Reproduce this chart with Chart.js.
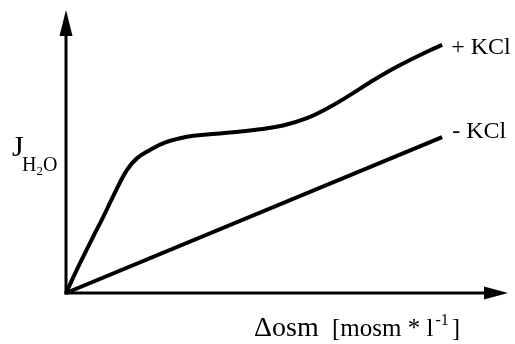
<!DOCTYPE html>
<html><head><meta charset="utf-8">
<script src="https://cdn.jsdelivr.net/npm/chart.js@4/dist/chart.umd.min.js"></script>
<style>html,body{margin:0;padding:0;background:#fff}#wrap{width:515px;height:344px;position:relative}</style>
</head><body><div id="wrap"><canvas id="c" width="515" height="344"></canvas></div>
<script>
// Data (arbitrary units, x: Δosm, y: J_H2O)
const plusKclX = [0, 3.2, 6.1, 8.4, 10.6, 13.8, 16.1, 19.0, 22.5, 27.4, 31.9, 37.8, 43.9, 49.1, 54.5, 59.7, 64.3, 68.8, 73.3, 77.8, 82.4, 85.1];
const plusKclY = [0, 10.7, 19.9, 27.0, 34.2, 43.8, 48.0, 50.9, 53.6, 55.6, 56.4, 57.2, 58.3, 59.6, 62.2, 66.2, 70.5, 75.0, 79.2, 82.9, 86.4, 88.3];
const minusKclX = [0, 85.1];
const minusKclY = [0, 55.5];
const seriesLabels = ['+ KCl', '- KCl'];
const xAxisLabel = 'Δosm';
const xAxisUnit = '[mosm * l';
const xAxisUnitSup = '-1';
const yAxisLabel = 'J';
const yAxisSub = ['H', '2', 'O'];

const toPts = (xs, ys) => xs.map((x, i) => ({x: x, y: ys[i]}));

const decor = {
  id: 'decor',
  afterDraw(chart) {
    const ctx = chart.ctx;
    const a = chart.chartArea;
    const xs = chart.scales.x, ys = chart.scales.y;
    const ox = xs.getPixelForValue(0), oy = ys.getPixelForValue(0);
    ctx.save();
    ctx.strokeStyle = '#000'; ctx.fillStyle = '#000';
    ctx.lineWidth = 3;
    // y axis
    ctx.beginPath(); ctx.moveTo(ox, oy + 1.5); ctx.lineTo(ox, a.top + 22); ctx.stroke();
    ctx.beginPath(); ctx.moveTo(ox, a.top - 2); ctx.lineTo(ox - 6.5, a.top + 24); ctx.lineTo(ox + 6.5, a.top + 24); ctx.closePath(); ctx.fill();
    // x axis
    ctx.beginPath(); ctx.moveTo(ox - 1.5, oy); ctx.lineTo(a.right - 22, oy); ctx.stroke();
    ctx.beginPath(); ctx.moveTo(a.right, oy); ctx.lineTo(a.right - 24, oy - 6.5); ctx.lineTo(a.right - 24, oy + 6.5); ctx.closePath(); ctx.fill();

    // series labels
    ctx.textBaseline = 'alphabetic'; ctx.textAlign = 'left';
    ctx.font = '24px "Liberation Serif"';
    const pEnd = chart.getDatasetMeta(0).data; const pe = pEnd[pEnd.length - 1];
    ctx.fillText(seriesLabels[0], pe.x + 9, pe.y + 9);
    const mEnd = chart.getDatasetMeta(1).data; const me = mEnd[mEnd.length - 1];
    ctx.fillText(seriesLabels[1], me.x + 10, me.y + 1);

    // y axis label
    ctx.font = '30px "Liberation Serif"';
    ctx.fillText(yAxisLabel, 12, 156);
    let x = 22;
    ctx.font = '20px "Liberation Serif"';
    ctx.fillText(yAxisSub[0], x, 171); x += ctx.measureText(yAxisSub[0]).width;
    ctx.font = '13px "Liberation Serif"';
    ctx.fillText(yAxisSub[1], x, 175); x += ctx.measureText(yAxisSub[1]).width;
    ctx.font = '20px "Liberation Serif"';
    ctx.fillText(yAxisSub[2], x, 171);

    // x axis label
    let tx = 254;
    ctx.font = '28px "Liberation Serif"';
    ctx.fillText(xAxisLabel, tx, 336);
    tx = 332;
    ctx.font = '25px "Liberation Serif"';
    ctx.fillText(xAxisUnit, tx, 336); tx += ctx.measureText(xAxisUnit).width + 2;
    ctx.font = '16px "Liberation Serif"';
    ctx.fillText(xAxisUnitSup, tx, 325); tx += ctx.measureText(xAxisUnitSup).width + 3;
    ctx.font = '25px "Liberation Serif"';
    ctx.fillText(']', tx, 336);
    ctx.restore();
  }
};

new Chart(document.getElementById('c'), {
  type: 'scatter',
  data: {
    datasets: [
      {label: seriesLabels[0], data: toPts(plusKclX, plusKclY), showLine: true, borderColor: '#000', borderWidth: 4, pointRadius: 0, tension: 0.4, clip: false, fill: false},
      {label: seriesLabels[1], data: toPts(minusKclX, minusKclY), showLine: true, borderColor: '#000', borderWidth: 4, pointRadius: 0, clip: false, fill: false}
    ]
  },
  options: {
    responsive: false,
    devicePixelRatio: 1,
    animation: false,
    layout: {padding: {left: 66, right: 7, top: 12, bottom: 51}},
    plugins: {legend: {display: false}, tooltip: {enabled: false}},
    scales: {
      x: {type: 'linear', min: 0, max: 100, display: false},
      y: {type: 'linear', min: 0, max: 100, display: false}
    }
  },
  plugins: [decor]
});
</script>
</body></html>
